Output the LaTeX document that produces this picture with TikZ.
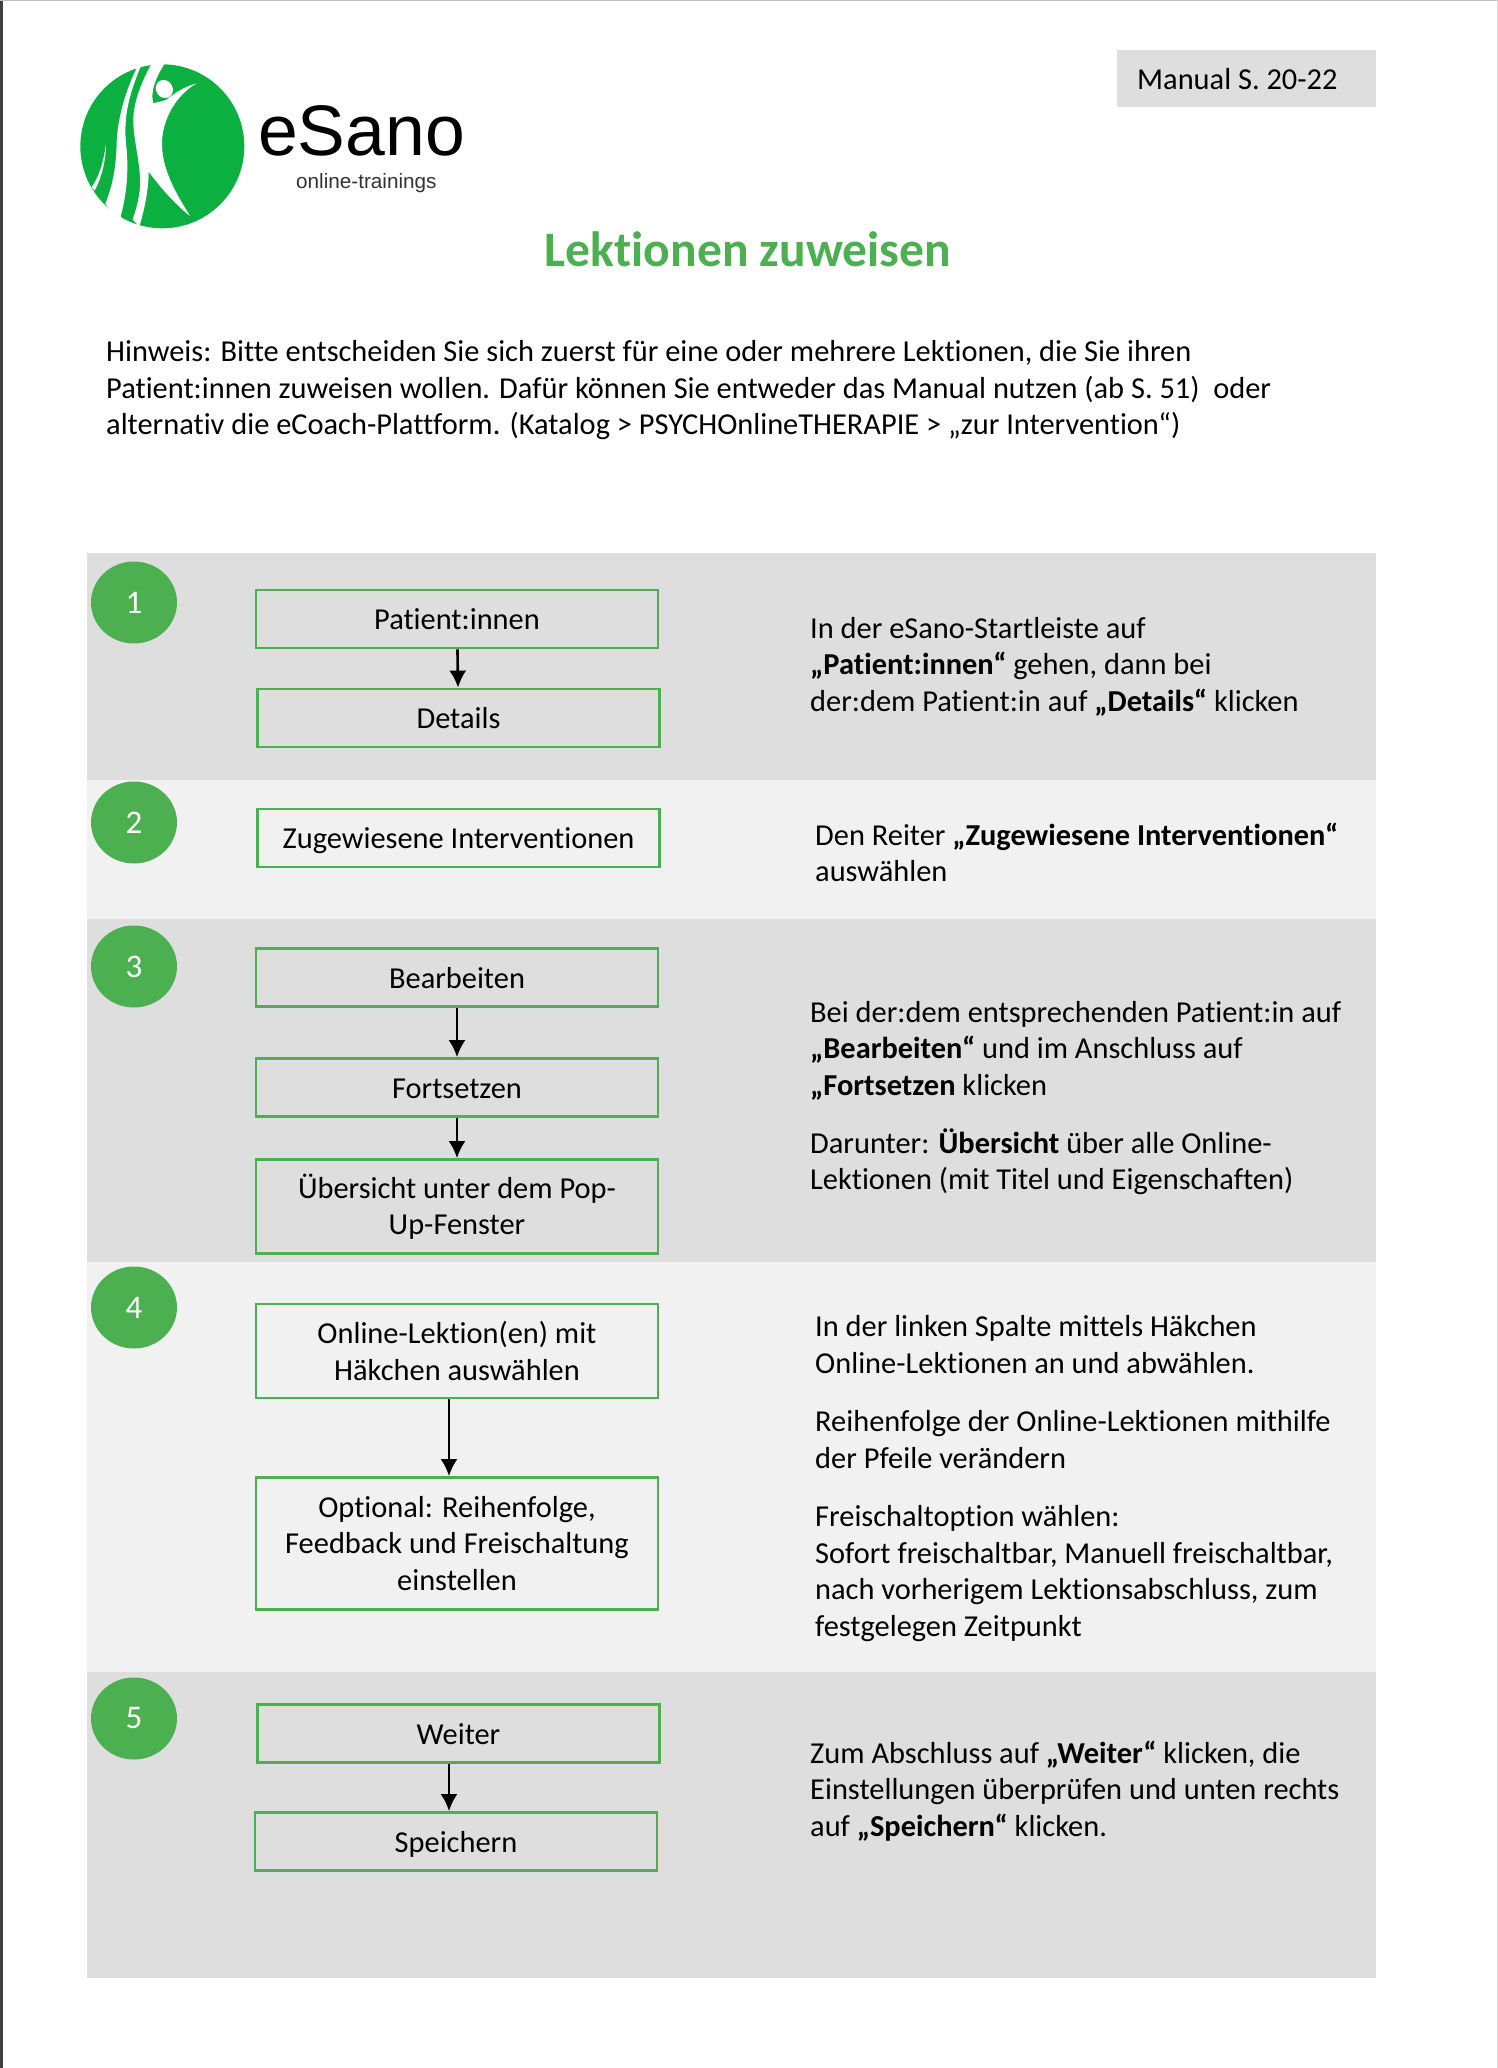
\documentclass[tikz,border=0pt]{standalone}
\usepackage{fontspec}
\setmainfont{Carlito}[Ligatures=NoCommon]
\newfontfamily\logofont{Liberation Sans}
\usetikzlibrary{arrows.meta,shapes.geometric}
\definecolor{esgreen}{HTML}{4CAF50}
\definecolor{logogreen}{HTML}{0CB040}
\definecolor{banddark}{HTML}{DEDEDE}
\definecolor{bandlight}{HTML}{F1F1F1}

\begin{document}
\begin{tikzpicture}[x=1pt,y=-1pt,>={Latex[length=17pt,width=17pt]}]
    \tikzstyle{stepbox}=[rectangle,draw=esgreen,line width=2.8pt,minimum width=402pt,inner sep=0pt,align=center,font=\fontsize{30.4}{36.5}\selectfont]
    \tikzstyle{oneline}=[stepbox,minimum height=58pt,text height=27pt,text depth=6pt]
    \tikzstyle{vertex}=[ellipse,fill=esgreen,text=white,minimum width=86pt,minimum height=82pt,inner sep=0pt,font=\fontsize{33}{36}\selectfont]
    \tikzstyle{para}=[anchor=base west,inner sep=0pt,align=left,font=\fontsize{30.4}{36.5}\selectfont]
    \useasboundingbox (0,0) rectangle (1498,2068);
    \fill[white] (0,0) rectangle (1498,2068);
    \fill[black!75] (0,0) rectangle (2.5,2068);
    \fill[black!25] (0,0) rectangle (1498,1.5);
    \fill[black!15] (1497,0) rectangle (1498,2068);

    % bands
    \foreach \ya/\yb/\col in {553/780/banddark, 780/919/bandlight, 919/1262/banddark, 1262/1672/bandlight, 1672/1978/banddark}
        \fill[\col] (87,\ya) rectangle (1376,\yb);

    % logo
    \begin{scope}[shift={(76,60)},scale=0.3333]
        \fill[logogreen] (259,259) circle (246);
        \fill[white] (185,18) .. controls (150,90) and (125,170) .. (122,250) .. controls (120,320) and (112,370) .. (88,432) -- (135,490) -- (135,465) .. controls (155,390) and (158,320) .. (150,250) .. controls (142,170) and (160,100) .. (195,18) -- cycle;
        \fill[white] (90,250) .. controls (84,300) and (72,345) .. (47,382) -- (56,392) .. controls (78,350) and (90,300) .. (90,250) -- cycle;
        \fill[white] (228,8) .. controls (195,70) and (170,130) .. (172,190) .. controls (175,260) and (200,330) .. (190,400) .. controls (186,430) and (178,455) .. (170,478) -- (190,500) .. controls (205,450) and (218,390) .. (218,335) .. controls (255,385) and (300,435) .. (342,468) .. controls (300,400) and (258,330) .. (258,250) .. controls (258,180) and (300,105) .. (362,70) .. controls (325,80) and (295,100) .. (270,120) -- (232,130) .. controls (222,95) and (240,50) .. (268,8) -- cycle;
        \fill[white,rotate around={30:(265,87)}] (265,87) ellipse [x radius=25,y radius=28];
    \end{scope}
    \node[anchor=base west,inner sep=0pt,font=\logofont\fontsize{71.5}{72}\selectfont] (brand) at (258,156) {eSano};
    \node[anchor=base west,inner sep=0pt,text=black!80,font=\logofont\fontsize{20.7}{22}\selectfont] (brandsub) at (296,189) {online-trainings};

    % head
    \fill[banddark] (1117,50) rectangle (1376,107);
    \node[anchor=base west,inner sep=0pt,font=\fontsize{30.4}{36}\selectfont] (manual) at (1137,90) {Manual S. 20-22};
    \node[anchor=base,inner sep=0pt,text=esgreen,font=\bfseries\fontsize{49.6}{50}\selectfont] (title) at (748,266.5) {Lektionen zuweisen};
    \node[para] (hint) at (106,434.5) {Hinweis: Bitte entscheiden Sie sich zuerst für eine oder mehrere Lektionen, die Sie ihren\\
        Patient:innen zuweisen wollen. Dafür können Sie entweder das Manual nutzen (ab S. 51)\ \ oder\\
        alternativ die eCoach-Plattform. (Katalog > PSYCHOnlineTHERAPIE > „zur Intervention“)};

    % numbers
    \foreach \num/\y in {1/602.5, 2/822.5, 3/966.5, 4/1307.5, 5/1718.5}
        \node[vertex] (N-\num) at (134,\y) {\num};

    % steps
    \node[oneline] (S-1) at (457,619) {Patient:innen};
    \node[oneline] (S-2) at (458.5,718) {Details};
    \node[oneline] (S-3) at (458.5,838) {Zugewiesene Interventionen};
    \node[oneline] (S-4) at (457,977.5) {Bearbeiten};
    \node[oneline] (S-5) at (457,1087.5) {Fortsetzen};
    \node[stepbox,minimum height=94pt] (S-6) at (457,1206.5) {Übersicht unter dem Pop-\\Up-Fenster};
    \node[stepbox,minimum height=94pt] (S-7) at (457,1351) {Online-Lektion(en) mit\\Häkchen auswählen};
    \node[stepbox,minimum height=132pt] (S-8) at (457,1543.5) {Optional: Reihenfolge,\\Feedback und Freischaltung\\einstellen};
    \node[oneline] (S-9) at (458.5,1733.5) {Weiter};
    \node[oneline] (S-10) at (456,1841.5) {Speichern};

    \foreach \from/\to in {1/2,4/5,5/6}
        \draw[->,line width=2.6pt] (S-\from) -- (S-\to);
    \draw[->,line width=2.6pt] ([xshift=-8pt]S-7.south) -- ([xshift=-8pt]S-8.north);
    \draw[->,line width=2.6pt] ([xshift=-9.5pt]S-9.south) -- ([xshift=-7pt]S-10.north);

    % notes
    \node[para] (T-1) at (810,711) {In der eSano-Startleiste auf\\
        \textbf{„Patient:innen“} gehen, dann bei\\
        der:dem Patient:in auf \textbf{„Details“} klicken};
    \node[para] (T-2) at (815,881.5) {Den Reiter \textbf{„Zugewiesene Interventionen“}\\auswählen};
    \node[para] (T-3) at (810,1095) {Bei der:dem entsprechenden Patient:in auf\\
        \textbf{„Bearbeiten“} und im Anschluss auf\\
        \textbf{„Fortsetzen} klicken};
    \node[para] (T-3b) at (810,1189.5) {Darunter: \textbf{Übersicht} über alle Online-\\
        Lektionen (mit Titel und Eigenschaften)};
    \node[para] (T-4) at (815,1373) {In der linken Spalte mittels Häkchen\\Online-Lektionen an und abwählen.};
    \node[para] (T-4b) at (815,1468) {Reihenfolge der Online-Lektionen mithilfe\\der Pfeile verändern};
    \node[para] (T-4c) at (815,1636) {Freischaltoption wählen:\\
        Sofort freischaltbar, Manuell freischaltbar,\\
        nach vorherigem Lektionsabschluss, zum\\
        festgelegen Zeitpunkt};
    \node[para] (T-5) at (810,1836) {Zum Abschluss auf \textbf{„Weiter“} klicken, die\\
        Einstellungen überprüfen und unten rechts\\
        auf \textbf{„Speichern“} klicken.};
\end{tikzpicture}
\end{document}
